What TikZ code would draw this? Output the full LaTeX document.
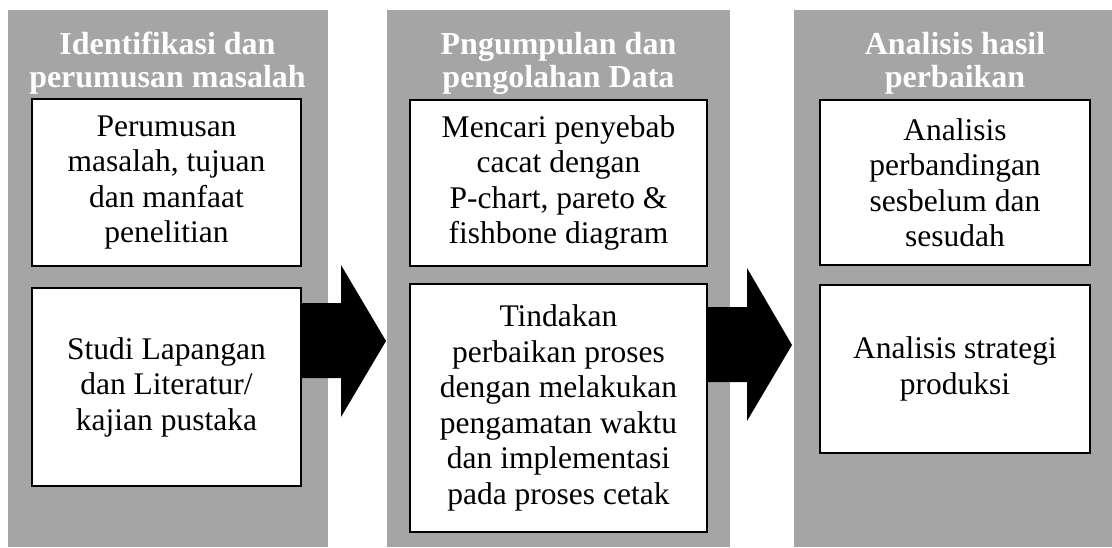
\documentclass[tikz,border=0pt]{standalone}
\usepackage{fontspec}
\setmainfont{Liberation Serif}
\definecolor{panelgray}{HTML}{A5A5A5}
\tikzset{
  panel/.style={fill=panelgray, draw=none, inner sep=0pt, anchor=north west},
  ptitle/.style={text=white, font=\bfseries\fontsize{32}{33}\selectfont, align=center, inner sep=0pt},
  wbox/.style={draw=black, fill=white, line width=2pt, align=center, inner sep=0pt,
    font=\fontsize{31.5}{35.5}\selectfont},
  blockarrow/.style={fill=black, draw=none}
}
\begin{document}
\begin{tikzpicture}[x=1pt,y=-1pt]
\useasboundingbox (0,0) rectangle (1112,547);
% panels
\node[panel, minimum width=320pt, minimum height=537pt] (p1) at (8,10) {};
\node[panel, minimum width=343pt, minimum height=537pt] (p2) at (387,10) {};
\node[panel, minimum width=318pt, minimum height=537pt] (p3) at (794,10) {};
% titles
\node[ptitle] (t1) at (167.5,63) {Identifikasi dan\\perumusan masalah};
\node[ptitle] (t2) at (558.5,63) {Pngumpulan dan\\pengolahan Data};
\node[ptitle] (t3) at (955,63) {Analisis hasil\\perbaikan};
% arrows
\fill[blockarrow] (300,303) -- (341,303) -- (341,265) -- (386,341) -- (341,417) -- (341,378) -- (300,378) -- cycle;
\fill[blockarrow] (706,307) -- (747,307) -- (747,268) -- (792,345) -- (747,421) -- (747,382) -- (706,382) -- cycle;
% boxes
\node[wbox, minimum width=269pt, minimum height=167pt] (b1) at (166.5,182.5)
  {Perumusan\\masalah, tujuan\\dan manfaat\\penelitian};
\node[wbox, minimum width=269pt, minimum height=198pt] (b2) at (166.5,387)
  {Studi Lapangan\\dan Literatur/\\kajian pustaka};
\node[wbox, minimum width=297pt, minimum height=166pt] (b3) at (558.5,183)
  {Mencari penyebab\\cacat dengan\\P-chart, pareto \&\\fishbone diagram};
\node[wbox, minimum width=297pt, minimum height=248pt] (b4) at (558.5,408)
  {Tindakan\\perbaikan proses\\dengan melakukan\\pengamatan waktu\\dan implementasi\\pada proses cetak};
\node[wbox, minimum width=270pt, minimum height=165pt] (b5) at (955,182.5)
  {Analisis\\perbandingan\\sesbelum dan\\sesudah};
\node[wbox, minimum width=270pt, minimum height=168pt] (b6) at (955,369)
  {Analisis strategi\\produksi};
\end{tikzpicture}
\end{document}
